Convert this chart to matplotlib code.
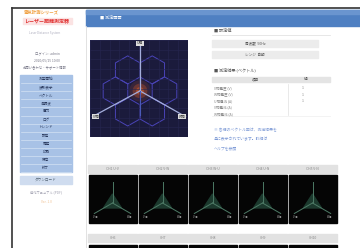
import numpy as np
import matplotlib
matplotlib.use('Agg')
from matplotlib import pyplot as plt
from matplotlib.patches import Rectangle, RegularPolygon, Polygon

plt.rcParams['font.family'] = ['Noto Sans CJK JP', 'DejaVu Sans']

# --- content of the screen ---
menuItems = ['測定開始', '波形表示', 'ベクトル', '高調波', '電力', 'ログ', 'トレンド', '設定', '履歴', '印刷', '保存', '終了']
settingRows = ['周波数  50Hz', 'レンジ  自動']
resultHeader = ['項目', '値']
resultRows = [('V相電圧 (V)', '1'), ('W相電圧 (V)', '1'), ('U相電流 (A)', '1'), ('V相電流 (A)', ''), ('W相電流 (A)', '')]
noteLines = ['※ 各相のベクトル図は、測定結果を', '基に表示されています。詳細は', 'ヘルプを参照']
thumbTitles = ['CH1 U-V', 'CH2 V-W', 'CH3 W-U', 'CH4 U-N', 'CH5 V-N']
thumbTitles2 = ['CH6', 'CH7', 'CH8', 'CH9', 'CH10']
phaseLabels = ['U相', 'V相', 'W相']
hexAngles = [0, 60, 120, 180, 240, 300]
lineAngles = [90, 210, 330]


def main():
	fig = plt.figure(figsize=(3.6, 2.48), dpi=100)
	ax = fig.add_axes([0, 0, 1, 1])
	ax.set_xlim(0, 360)
	ax.set_ylim(248, 0)
	ax.axis('off')

	# frame of the screenshot
	ax.plot([12, 12], [8, 248], color='#333333', lw=1.2)
	ax.plot([12, 360], [8, 8], color='#333333', lw=1.2)
	ax.plot([86, 86], [26, 248], color='#dddddd', lw=0.6)

	drawSidebar(ax)

	# header bar
	ax.add_patch(Rectangle((86, 9.5), 274, 16.5, color='#4f80c2'))
	ax.add_patch(Rectangle((86, 9.5), 274, 4, color='#6a95cf'))
	ax.text(100, 18, '■ 測定画面', fontsize=3, color='white', va='center')

	drawRightPanel(ax)
	drawThumbs(ax)

	# main vector plot
	pax = fig.add_axes([90 / 360, 1 - 137 / 248, 98 / 360, 97 / 248])
	drawVector(pax)

	fig.savefig('out.png', dpi=100)
	plt.close()


def drawSidebar(ax):
	ax.text(24, 11.5, '電気計測シリーズ', fontsize=3.2, color='#f0a040', va='center', weight='bold')
	ax.add_patch(Rectangle((23, 17.5), 49, 6.5, color='#fbe3e3'))
	ax.text(47, 21, 'レーザー距離測定器', fontsize=3.6, color='#e03030', va='center', ha='center', weight='bold')
	ax.text(45, 33, 'Laser Distance System', fontsize=2.2, color='#b0b0c0', va='center', ha='center')
	ax.text(47, 53.5, 'ログイン: admin', fontsize=2.4, color='#7a7a8a', va='center', ha='center')
	ax.text(47, 60, '2020/05/15 10:00', fontsize=2.4, color='#7a7a8a', va='center', ha='center')
	ax.text(45, 67.5, 'お問い合わせ・サポート情報', fontsize=2.4, color='#7a7a8a', va='center', ha='center')

	# menu panel
	top, rowH = 75, 8.1
	ax.add_patch(Rectangle((20, top), 52, rowH * len(menuItems), color='#a8c2e6'))
	for i, name in enumerate(menuItems):
		y = top + i * rowH
		ax.plot([21, 71], [y + rowH, y + rowH], color='#d4e2f4', lw=0.5)
		ax.text(46, y + rowH / 2, name, fontsize=2.6, color='#2c3c60', va='center', ha='center')
	ax.add_patch(Rectangle((20, 176), 52, 7.5, color='#cfdcef'))
	ax.text(46, 179.8, 'ダウンロード', fontsize=2.6, color='#556677', va='center', ha='center')
	ax.text(46, 192, '操作マニュアル (PDF)', fontsize=2.3, color='#a0a0b0', va='center', ha='center')
	ax.text(46, 202, 'Ver. 1.0', fontsize=2.3, color='#f0c090', va='center', ha='center')


def drawRightPanel(ax):
	ax.text(214, 30.5, '■ 設定値', fontsize=3, color='#555555', va='center')
	ax.plot([212, 330], [34.5, 34.5], color='#dddddd', lw=0.5)
	for i, row in enumerate(settingRows):
		y = 40 + i * 11
		ax.add_patch(Rectangle((212, y), 106, 7, color='#ececec'))
		ax.text(255, y + 3.5, row, fontsize=2.6, color='#555555', va='center', ha='center')

	ax.text(214, 70, '■ 測定結果 (ベクトル)', fontsize=3, color='#555555', va='center')
	ax.add_patch(Rectangle((212, 77), 118, 5, color='#e4e4e4'))
	ax.text(256, 79.5, resultHeader[0], fontsize=2.6, color='#444444', va='center', ha='center')
	ax.text(306, 79.5, resultHeader[1], fontsize=2.6, color='#444444', va='center', ha='center')
	for i, (name, val) in enumerate(resultRows):
		y = 88 + i * 6.5
		ax.text(214, y, name, fontsize=2.5, color='#888888', va='center')
		ax.text(303, y, val, fontsize=2.5, color='#888888', va='center', ha='center')
	ax.plot([288, 288], [84, 115], color='#e0e0e0', lw=0.5)
	ax.plot([212, 330], [116, 116], color='#eeeeee', lw=0.5)
	for i, line in enumerate(noteLines):
		ax.text(214, 130 + i * 9.5, line, fontsize=2.8, color='#7d9ad6', va='center')


def drawThumbs(ax):
	for i, title in enumerate(thumbTitles):
		x = 88 + i * 50
		ax.add_patch(Rectangle((x, 165), 49, 8, color='#e2e2e2'))
		ax.text(x + 24.5, 169, title, fontsize=2.4, color='#888888', va='center', ha='center')
		ax.add_patch(Rectangle((x + 0.5, 175), 48, 48, color='#050505'))
		ax.add_patch(Rectangle((x, 234), 49, 8, color='#e2e2e2'))
		ax.text(x + 24.5, 238, thumbTitles2[i], fontsize=2.4, color='#888888', va='center', ha='center')
		ax.add_patch(Rectangle((x + 0.5, 244.5), 48, 4, color='#050505'))
		# small vector diagram
		cx, cy = x + 24.5, 203
		ax.add_patch(Polygon([[cx, cy - 9], [cx - 9, cy + 5], [cx + 9, cy + 5]], color='#1c3a2e'))
		for ang in lineAngles:
			a = np.deg2rad(ang)
			ax.plot([cx, cx + 21 * np.cos(a)], [cy, cy - 21 * np.sin(a)], color='#4d7a66', lw=0.7)
		ax.text(x + 5, 217, phaseLabels[1], fontsize=2, color='#aaaaaa', va='center')
		ax.text(x + 44, 217, phaseLabels[2], fontsize=2, color='#aaaaaa', va='center', ha='right')


def drawVector(pax):
	pax.set_facecolor('#1b1b3c')
	pax.set_xlim(-1, 1)
	pax.set_ylim(-1, 1)
	pax.set_xticks([])
	pax.set_yticks([])
	for s in pax.spines.values():
		s.set_visible(False)
	for g in np.linspace(-1, 1, 11):
		pax.axvline(g, color='#262650', lw=0.4)
		pax.axhline(g, color='#262650', lw=0.4)

	cx, cy = 0.02, -0.05
	for ang in hexAngles:
		a = np.deg2rad(ang)
		pax.add_patch(RegularPolygon((cx + 0.5 * np.cos(a), cy + 0.5 * np.sin(a)), 6, radius=0.29,
			orientation=0, fill=False, ec='#4a44b8', lw=0.7))

	# orange glow in the centre
	for r, al in [(0.22, 0.15), (0.15, 0.3), (0.08, 0.5)]:
		pax.add_patch(plt.Circle((cx, cy), r, color='#e0602a', alpha=al, lw=0))

	ends = [(cx, 0.95), (-0.95, -0.58), (0.95, -0.58)]
	for ex, ey in ends:
		pax.plot([cx, ex], [cy, ey], color='#a4aedc', lw=0.9)
	pax.plot([cx, cx], [cy, -0.55], color='#4a5ab8', lw=0.8)

	pos = [(cx, 0.93), (-0.88, -0.58), (0.88, -0.58)]
	for (tx, ty), lab in zip(pos, phaseLabels):
		pax.text(tx, ty, lab, fontsize=2.6, color='#333333', ha='center', va='center',
			bbox=dict(boxstyle='square,pad=0.2', fc='#dddddd', ec='none'))


main()
